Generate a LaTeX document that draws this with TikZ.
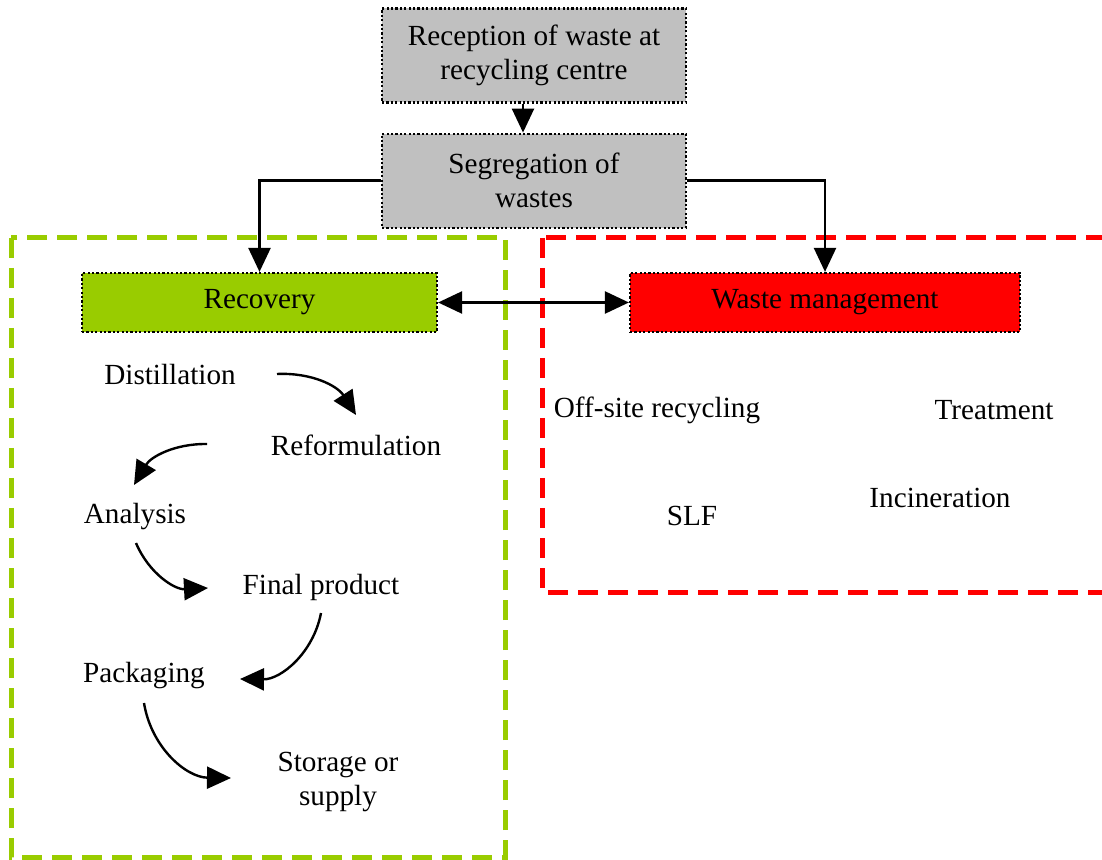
\documentclass[tikz,border=0pt]{standalone}
\usepackage{fontspec}
\setmainfont{Liberation Serif}
\usetikzlibrary{arrows.meta,positioning}
\definecolor{boxgrey}{RGB}{192,192,192}
\definecolor{recgreen}{RGB}{153,204,0}
\definecolor{wmred}{RGB}{255,0,0}
\tikzset{
stagebox/.style={
  draw=black, line width=1.1pt, dash pattern=on 1.1pt off 1.1pt,
  align=center, inner sep=2pt, text=black
  },
greybox/.style={
  stagebox, fill=boxgrey, minimum width=152pt, minimum height=47pt
  },
routebox/.style={
  stagebox, minimum width=#1, minimum height=29.5pt
  },
steptext/.style={
  align=center, inner sep=2pt, text=black
  },
flow/.style={
  line width=1.2pt, -{Triangle[length=12pt,width=11pt]}
  },
twoway/.style={
  line width=1.2pt, {Triangle[length=12pt,width=11pt]}-{Triangle[length=12pt,width=11pt]}
  },
frame/.style={
  line width=2.5pt, dash pattern=on 10pt off 5pt
  }
}

\begin{document}
\begin{tikzpicture}[x=0.5pt,y=0.5pt,font=\fontsize{14.6}{17}\selectfont]
\clip (0,0) rectangle (1102,-860);

% dashed areas
\draw[frame, draw=recgreen] (11,-238) rectangle (505,-857);
\draw[frame, draw=wmred] (542,-238) rectangle (1130,-592);

% top of the chain
\node[greybox] at (534,-55.5) (reception)
{Reception of waste at\\recycling centre};
\node[greybox, below=14.5pt of reception] (segregation)
{Segregation of\\wastes};

\node[routebox=177.5pt, fill=recgreen] at (259.5,-302.5) (recovery) {Recovery};
\node[routebox=195pt, fill=wmred] at (825,-302.5) (wastemgmt) {Waste management};

\draw[flow] ([xshift=-5.5pt]reception.south) -- ([xshift=-5.5pt]segregation.north);
\draw[flow] (segregation.west) -| (recovery.north);
\draw[flow] (segregation.east) -| (wastemgmt.north);
\draw[twoway] (recovery) -- (wastemgmt);

% recovery steps
\node[steptext] at (170,-375) (dist) {Distillation};
\node[steptext] at (356,-445) (reform) {Reformulation};
\node[steptext] at (135,-517) (analysis) {Analysis};
\node[steptext] at (321,-587) (finalprod) {Final product};
\node[steptext] at (144,-676) (packaging) {Packaging};
\node[steptext] at (338,-782) (storage) {Storage or\\supply};

\coordinate (dist-out) at (277,-374);
\coordinate (reform-in) at (356,-415);
\coordinate (reform-out) at (207,-444);
\coordinate (analysis-in) at (134,-485);
\coordinate (analysis-out) at (136,-543);
\coordinate (finalprod-in) at (208,-588);
\coordinate (finalprod-out) at (321,-613);
\coordinate (packaging-in) at (240,-679);
\coordinate (packaging-out) at (144,-703);
\coordinate (storage-in) at (231,-778);

\draw[flow] (dist-out) to[bend left=30] (reform-in);
\draw[flow] (reform-out) to[bend right=30] (analysis-in);
\draw[flow] (analysis-out) to[bend right=35] (finalprod-in);
\draw[flow] (finalprod-out) to[bend left=40] (packaging-in);
\draw[flow] (packaging-out) to[bend right=40] (storage-in);

% waste management options
\node[steptext] at (657,-410) (offsite) {Off-site recycling};
\node[steptext] at (994,-410) (treatment) {Treatment};
\node[steptext] at (692,-516) (slf) {SLF};
\node[steptext] at (940,-498) (incin) {Incineration};

\end{tikzpicture}
\end{document}
